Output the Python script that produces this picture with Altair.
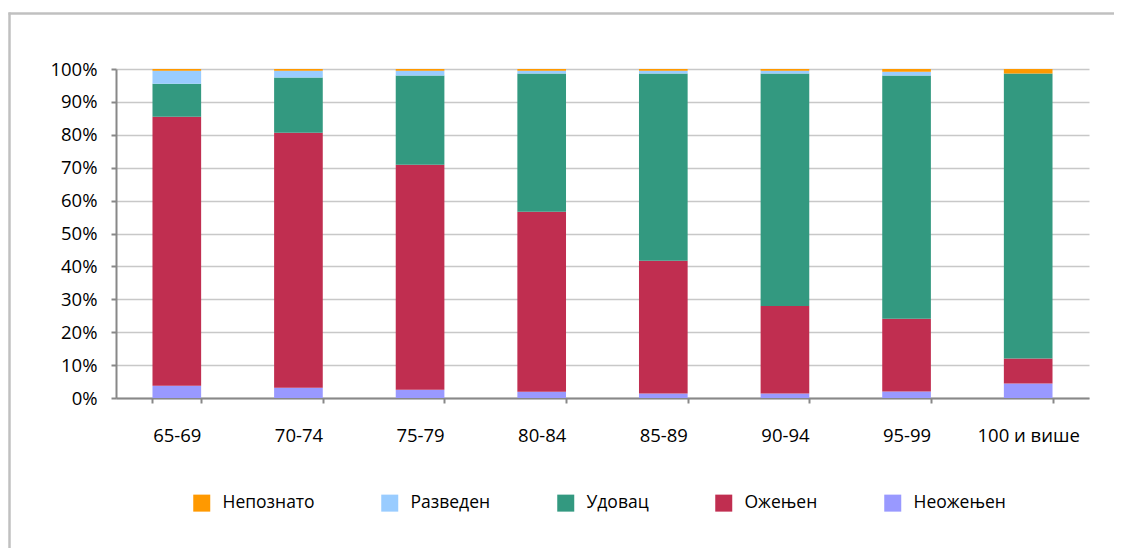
import altair as alt
import pandas as pd

categories = ["65-69", "70-74", "75-79", "80-84", "85-89", "90-94", "95-99", "100 и више"]
neozenjen = [3.7, 3.1, 2.5, 1.9, 1.4, 1.4, 2.0, 4.4]
ozenjen = [81.8, 77.5, 68.4, 54.7, 40.3, 26.6, 22.1, 7.6]
udovac = [10.0, 16.8, 27.1, 42.0, 56.9, 70.6, 73.9, 86.6]
razveden = [4.0, 2.1, 1.5, 0.9, 0.9, 0.9, 1.2, 0.0]
nepoznato = [0.5, 0.5, 0.5, 0.5, 0.5, 0.5, 0.8, 1.4]

series_names = ["Неожењен", "Ожењен", "Удовац", "Разведен", "Непознато"]
series_values = [neozenjen, ozenjen, udovac, razveden, nepoznato]
legend_order = ["Непознато", "Разведен", "Удовац", "Ожењен", "Неожењен"]
legend_colors = ["#FF9900", "#99CCFF", "#339980", "#C02E50", "#9999FF"]

rows = []
for si, (name, vals) in enumerate(zip(series_names, series_values)):
    for cat, v in zip(categories, vals):
        rows.append({"cat": cat, "series": name, "value": v, "ord": si})
df = pd.DataFrame(rows)

FONT = "Open Sans"

bars = alt.Chart(df).mark_bar().encode(
    x=alt.X("cat:N", sort=categories, title=None,
            scale=alt.Scale(paddingInner=0.6, paddingOuter=0.3),
            axis=alt.Axis(labelAngle=0, tickBand="extent", tickSize=5, tickWidth=2,
                          tickColor="#888888", domainColor="#888888", domainWidth=2,
                          labelFontSize=18.5, labelFont=FONT, labelColor="#000000",
                          labelPadding=23, grid=False)),
    y=alt.Y("value:Q", stack="zero", title=None,
            scale=alt.Scale(domain=[0, 100], nice=False),
            axis=alt.Axis(values=list(range(0, 101, 10)), labelExpr="datum.value + '%'",
                          tickSize=5, tickWidth=2, tickColor="#888888",
                          domainColor="#888888", domainWidth=2,
                          gridColor="#c8c8c8", gridWidth=1.5,
                          labelFontSize=18.5, labelFont=FONT, labelColor="#000000",
                          labelPadding=14)),
    color=alt.Color("series:N", title=None,
                    scale=alt.Scale(domain=legend_order, range=legend_colors),
                    legend=alt.Legend(orient="none", legendX=77, legendY=425,
                                      direction="horizontal", columns=5,
                                      symbolType="square", symbolSize=289,
                                      symbolStrokeWidth=0, symbolOpacity=1,
                                      labelFontSize=17.5, labelFont=FONT,
                                      labelColor="#000000", labelOffset=12,
                                      columnPadding=66)),
    order=alt.Order("ord:Q", sort="ascending"),
)

frame_df = pd.DataFrame({"a": [0]})
frame_top = alt.Chart(frame_df).mark_rule(color="#c0c0c0", strokeWidth=2.5).encode(
    x=alt.value(-107.5), x2=alt.value(1040), y=alt.value(-55.5),
)
frame_left = alt.Chart(frame_df).mark_rule(color="#c0c0c0", strokeWidth=2.5).encode(
    x=alt.value(-106.5), y=alt.value(-56.5), y2=alt.value(520),
)

chart = alt.layer(frame_top, frame_left, bars).properties(
    width=973, height=329,
    autosize=alt.AutoSizeParams(type="none"),
    padding={"left": 108, "top": 61, "right": 25, "bottom": 150},
).configure_view(stroke=None)

chart.save("out.html", embed_options={"renderer": "svg", "actions": False})
